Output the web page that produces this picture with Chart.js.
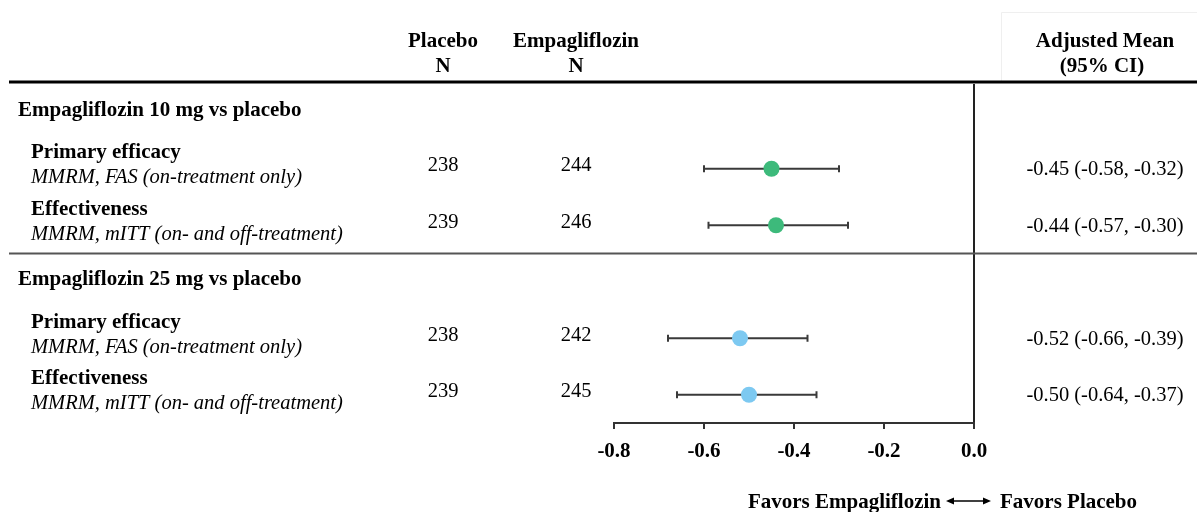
<!DOCTYPE html>
<html>
<head>
<meta charset="utf-8">
<script src="https://cdn.jsdelivr.net/npm/chart.js@4/dist/chart.umd.min.js"></script>
<style>
  html, body { margin: 0; padding: 0; background: #fff; }
  #wrap { width: 1197px; height: 512px; position: relative; }
</style>
</head>
<body>
<div id="wrap"><canvas id="c"></canvas></div>
<script>
// ---- data ----
const groupLabels = ['Empagliflozin 10 mg vs placebo', 'Empagliflozin 25 mg vs placebo'];
const groupPos = [0, 3];
const rowTitles = ['Primary efficacy', 'Effectiveness', 'Primary efficacy', 'Effectiveness'];
const rowSubtitles = ['MMRM, FAS (on-treatment only)', 'MMRM, mITT (on- and off-treatment)',
                      'MMRM, FAS (on-treatment only)', 'MMRM, mITT (on- and off-treatment)'];
const rowPos = [1, 2, 4, 5];
const placeboN = [238, 239, 238, 239];
const empaN = [244, 246, 242, 245];
const means = [-0.45, -0.44, -0.52, -0.50];
const ciLowText = [-0.58, -0.57, -0.66, -0.64];
const ciHighText = [-0.32, -0.30, -0.39, -0.37];
const whiskerLow = [-0.60, -0.59, -0.68, -0.66];
const whiskerHigh = [-0.30, -0.28, -0.37, -0.35];
const rowColors = ['#3dba7b', '#3dba7b', '#7dc9f1', '#7dc9f1'];
const xTicks = [-0.8, -0.6, -0.4, -0.2, 0.0];

const SERIF = '"Liberation Serif", "Times New Roman", serif';

const datasets = [];
datasets.push({
  label: 'Adjusted mean',
  data: means.map((m, i) => ({ x: m, y: rowPos[i] })),
  pointRadius: 8,
  pointHoverRadius: 8,
  pointBackgroundColor: rowColors,
  pointBorderWidth: 0,
  pointBorderColor: rowColors,
  showLine: false,
  order: 0
});
means.forEach((m, i) => {
  datasets.push({
    label: 'CI ' + i,
    data: [{ x: whiskerLow[i], y: rowPos[i] }, { x: whiskerHigh[i], y: rowPos[i] }],
    showLine: true,
    borderColor: '#3a3a3a',
    borderWidth: 2,
    pointStyle: 'line',
    pointRotation: 90,
    pointRadius: 3.5,
    pointHoverRadius: 3.5,
    pointBorderColor: '#3a3a3a',
    pointBorderWidth: 2,
    order: 1
  });
});

const fmt = v => v.toFixed(2);

const tablePlugin = {
  id: 'tablePlugin',
  afterDraw(chart) {
    const ctx = chart.ctx;
    const ys = chart.scales.y;
    const W = chart.width;
    ctx.save();

    // faint box around Adjusted Mean header
    ctx.strokeStyle = '#efefef';
    ctx.lineWidth = 1;
    ctx.beginPath();
    ctx.moveTo(1001.5, 81); ctx.lineTo(1001.5, 12.5); ctx.lineTo(W, 12.5);
    ctx.stroke();

    // header line
    ctx.fillStyle = '#000';
    ctx.fillRect(9, 80.5, W - 9, 3);

    // separator line between groups
    const sepY = ys.getPixelForValue(2.5);
    ctx.fillStyle = '#555';
    ctx.fillRect(9, sepY - 1, W - 9, 2);

    ctx.fillStyle = '#000';
    ctx.textBaseline = 'middle';

    // headers
    ctx.font = 'bold 21px ' + SERIF;
    ctx.textAlign = 'center';
    ctx.fillText('Placebo', 443, 42);
    ctx.fillText('N', 443, 67);
    ctx.fillText('Empagliflozin', 576, 42);
    ctx.fillText('N', 576, 67);
    ctx.fillText('Adjusted Mean', 1105, 42);
    ctx.fillText('(95% CI)', 1102, 67);

    // group headings
    ctx.textAlign = 'left';
    groupLabels.forEach((g, i) => {
      ctx.font = 'bold 21px ' + SERIF;
      ctx.fillText(g, 18, ys.getPixelForValue(groupPos[i]) - 2);
    });

    // rows
    rowPos.forEach((p, i) => {
      const y = ys.getPixelForValue(p);
      ctx.textAlign = 'left';
      ctx.font = 'bold 21px ' + SERIF;
      ctx.fillText(rowTitles[i], 31, y - 16);
      ctx.font = 'italic 20.5px ' + SERIF;
      ctx.fillText(rowSubtitles[i], 31, y + 9);
      ctx.textAlign = 'center';
      ctx.font = '20.5px ' + SERIF;
      ctx.fillText(String(placeboN[i]), 443, y - 3);
      ctx.fillText(String(empaN[i]), 576, y - 3);
      ctx.fillText(fmt(means[i]) + ' (' + fmt(ciLowText[i]) + ', ' + fmt(ciHighText[i]) + ')', 1105, y + 1);
    });

    // bottom label with double arrow
    const by = 503;
    ctx.font = 'bold 21px ' + SERIF;
    ctx.textAlign = 'right';
    ctx.fillText('Favors Empagliflozin', 941, by);
    ctx.textAlign = 'left';
    ctx.fillText('Favors Placebo', 1000, by);
    ctx.strokeStyle = '#000';
    ctx.lineWidth = 1.5;
    ctx.beginPath();
    ctx.moveTo(950, by - 2); ctx.lineTo(987, by - 2);
    ctx.stroke();
    ctx.beginPath();
    ctx.moveTo(946, by - 2); ctx.lineTo(954, by - 5.5); ctx.lineTo(954, by + 1.5); ctx.closePath();
    ctx.moveTo(991, by - 2); ctx.lineTo(983, by - 5.5); ctx.lineTo(983, by + 1.5); ctx.closePath();
    ctx.fill();

    ctx.restore();
  }
};

new Chart(document.getElementById('c'), {
  type: 'scatter',
  data: { datasets },
  options: {
    responsive: true,
    maintainAspectRatio: false,
    animation: false,
    events: [],
    layout: { padding: { left: 614, right: 223, top: 84, bottom: 49 } },
    plugins: { legend: { display: false }, tooltip: { enabled: false } },
    scales: {
      x: {
        type: 'linear',
        min: -0.8,
        max: 0,
        afterBuildTicks: s => { s.ticks = xTicks.map(v => ({ value: v })); },
        afterFit: s => { s.height = 40; },
        border: { display: true, color: '#333', width: 2 },
        grid: {
          drawOnChartArea: true,
          color: c => (c.tick && Math.abs(c.tick.value) < 1e-9) ? '#222' : 'rgba(0,0,0,0)',
          lineWidth: 2,
          tickLength: 6,
          tickColor: '#333',
          tickWidth: 2
        },
        ticks: {
          color: '#000',
          padding: 10,
          font: { family: SERIF, size: 21, weight: 'bold' },
          callback: v => Number(v).toFixed(1),
          maxRotation: 0,
          autoSkip: false
        }
      },
      y: {
        type: 'linear',
        display: false,
        min: -0.5,
        max: 5.5,
        reverse: true
      }
    }
  },
  plugins: [tablePlugin]
});
</script>
</body>
</html>
